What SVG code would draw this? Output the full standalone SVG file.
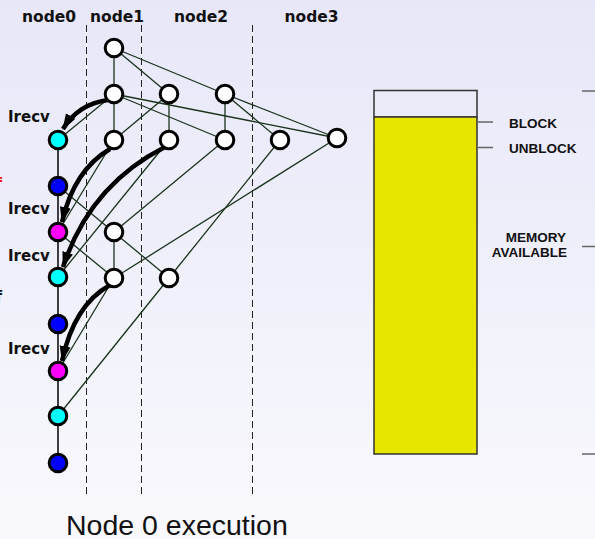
<svg xmlns="http://www.w3.org/2000/svg" width="595" height="539" viewBox="0 0 595 539">
<defs>
<linearGradient id="bg" x1="0" y1="0" x2="0" y2="1">
<stop offset="0" stop-color="#e7e7f9"/>
<stop offset="1" stop-color="#f9f9fd"/>
</linearGradient>
<marker id="ah" markerUnits="userSpaceOnUse" markerWidth="18" markerHeight="14" refX="15" refY="5.5" orient="auto">
<path d="M0,0 L16,5.5 L0,11 z" fill="#000"/>
</marker>
<style>
.hdr{font-family:"DejaVu Sans",sans-serif;font-weight:bold;font-size:15.5px;fill:#111;text-anchor:middle}
.lbl{font-family:"DejaVu Sans",sans-serif;font-weight:bold;font-size:15px;fill:#111}
.mem{font-family:"Liberation Sans",Arial,sans-serif;font-weight:bold;font-size:13.5px;fill:#111}
.dash{stroke:#222;stroke-width:1;stroke-dasharray:7,4;fill:none}
.dashbg{stroke:#fff;stroke-width:1;fill:none}
.e{stroke:#1b331b;stroke-width:1.3;fill:none}
.chain{stroke:#111;stroke-width:1.6;fill:none}
.thick{stroke:#000;stroke-width:4.5;fill:none;marker-end:url(#ah)}
.n{stroke:#000;stroke-width:3}
.w{fill:#fff}.c{fill:#00ffff}.b{fill:#0000ff}.m{fill:#ff00ff}
.tick{stroke:#666;stroke-width:1.5}
</style>
</defs>
<rect width="595" height="539" fill="url(#bg)"/>

<g id="headers">
<text class="hdr" x="49" y="21.5">node0</text>
<text class="hdr" x="117" y="21.5">node1</text>
<text class="hdr" x="201" y="21.5">node2</text>
<text class="hdr" x="311.5" y="21.5">node3</text>
</g>

<g id="separators">
<line class="dashbg" x1="86.5" y1="25" x2="86.5" y2="498"/>
<line class="dash" x1="86.5" y1="25" x2="86.5" y2="498"/>
<line class="dashbg" x1="141.5" y1="25" x2="141.5" y2="498"/>
<line class="dash" x1="141.5" y1="25" x2="141.5" y2="498"/>
<line class="dashbg" x1="252.5" y1="25" x2="252.5" y2="498"/>
<line class="dash" x1="252.5" y1="25" x2="252.5" y2="498"/>
</g>

<g id="connectors">
<line class="chain" x1="58" y1="140" x2="58" y2="463"/>
<line class="e" x1="114" y1="48" x2="114" y2="94"/>
<line class="e" x1="114" y1="48" x2="169" y2="94"/>
<line class="e" x1="114" y1="48" x2="225" y2="94"/>
<line class="e" x1="114" y1="94" x2="114" y2="140"/>
<line class="e" x1="114" y1="94" x2="58" y2="140"/>
<line class="e" x1="114" y1="94" x2="225" y2="140"/>
<line class="e" x1="114" y1="94" x2="337" y2="138"/>
<line class="e" x1="169" y1="94" x2="169" y2="140"/>
<line class="e" x1="169" y1="94" x2="114" y2="140"/>
<line class="e" x1="225" y1="94" x2="225" y2="140"/>
<line class="e" x1="225" y1="94" x2="280" y2="140"/>
<line class="e" x1="225" y1="94" x2="337" y2="138"/>
<line class="e" x1="114" y1="140" x2="58" y2="232"/>
<line class="e" x1="169" y1="140" x2="58" y2="277"/>
<line class="e" x1="225" y1="140" x2="114" y2="232"/>
<line class="e" x1="280" y1="140" x2="169" y2="278"/>
<line class="e" x1="337" y1="138" x2="114" y2="278"/>
<line class="e" x1="58" y1="186" x2="169" y2="278"/>
<line class="e" x1="114" y1="232" x2="114" y2="278"/>
<line class="e" x1="58" y1="232" x2="114" y2="278"/>
<line class="e" x1="114" y1="278" x2="58" y2="371"/>
<line class="e" x1="169" y1="278" x2="58" y2="416"/>
<path class="thick" d="M108,100 Q78,104 63,129"/>
<path class="thick" d="M110,149 Q74,170 62,222"/>
<path class="thick" d="M165,147 Q90,185 63,267"/>
<path class="thick" d="M110,285 Q74,305 62,361"/>
</g>

<g id="irecv-labels">
<text class="lbl" x="8" y="121.5">Irecv</text>
<text class="lbl" x="8" y="214">Irecv</text>
<text class="lbl" x="8" y="261">Irecv</text>
<text class="lbl" x="8" y="354">Irecv</text>
<text x="2" y="189" font-family="DejaVu Sans,sans-serif" font-weight="bold" font-size="15" fill="#ff0000" text-anchor="end">f</text>
<text x="2" y="302" font-family="DejaVu Sans,sans-serif" font-weight="bold" font-size="15" fill="#111" text-anchor="end">f</text>
</g>

<g id="n_root"><circle class="n w" cx="114" cy="48" r="8.8"/></g>
<g id="n_a1"><circle class="n w" cx="114" cy="94" r="8.8"/></g>
<g id="n_a2"><circle class="n w" cx="169" cy="94" r="8.8"/></g>
<g id="n_a3"><circle class="n w" cx="225" cy="94" r="8.8"/></g>
<g id="n_b1"><circle class="n w" cx="114" cy="140" r="8.8"/></g>
<g id="n_b2"><circle class="n w" cx="169" cy="140" r="8.8"/></g>
<g id="n_b3"><circle class="n w" cx="225" cy="140" r="8.8"/></g>
<g id="n_b4"><circle class="n w" cx="280" cy="140" r="8.8"/></g>
<g id="n_b5"><circle class="n w" cx="337" cy="138" r="8.8"/></g>
<g id="n_c1"><circle class="n w" cx="114" cy="232" r="8.8"/></g>
<g id="n_d1"><circle class="n w" cx="114" cy="278" r="8.8"/></g>
<g id="n_d2"><circle class="n w" cx="169" cy="278" r="8.8"/></g>
<g id="p0_1"><circle class="n c" cx="58" cy="140" r="8.8"/></g>
<g id="p0_2"><circle class="n b" cx="58" cy="186" r="8.8"/></g>
<g id="p0_3"><circle class="n m" cx="58" cy="232" r="8.8"/></g>
<g id="p0_4"><circle class="n c" cx="58" cy="277" r="8.8"/></g>
<g id="p0_5"><circle class="n b" cx="58" cy="324" r="8.8"/></g>
<g id="p0_6"><circle class="n m" cx="58" cy="371" r="8.8"/></g>
<g id="p0_7"><circle class="n c" cx="58" cy="416" r="8.8"/></g>
<g id="p0_8"><circle class="n b" cx="58" cy="463" r="8.8"/></g>

<g id="memory">
<rect x="374" y="90.5" width="103" height="26.5" fill="none" stroke="#333" stroke-width="1.5"/>
<rect x="374" y="117" width="103" height="337" fill="#e6e600" stroke="#333" stroke-width="1.5"/>
<line class="tick" x1="477" y1="122" x2="493" y2="122"/>
<line class="tick" x1="477" y1="147.5" x2="493" y2="147.5"/>
<line class="tick" x1="582" y1="91" x2="595" y2="91"/>
<line class="tick" x1="582" y1="246.5" x2="595" y2="246.5"/>
<line class="tick" x1="582" y1="454" x2="595" y2="454"/>
<text class="mem" x="509" y="127.5">BLOCK</text>
<text class="mem" x="509" y="153">UNBLOCK</text>
<text class="mem" x="566" y="242" text-anchor="end">MEMORY</text>
<text class="mem" x="567" y="256.5" text-anchor="end">AVAILABLE</text>
</g>

<text x="66" y="535" font-family="Liberation Sans,Arial,sans-serif" font-size="28.5" fill="#111">Node 0 execution</text>
</svg>
